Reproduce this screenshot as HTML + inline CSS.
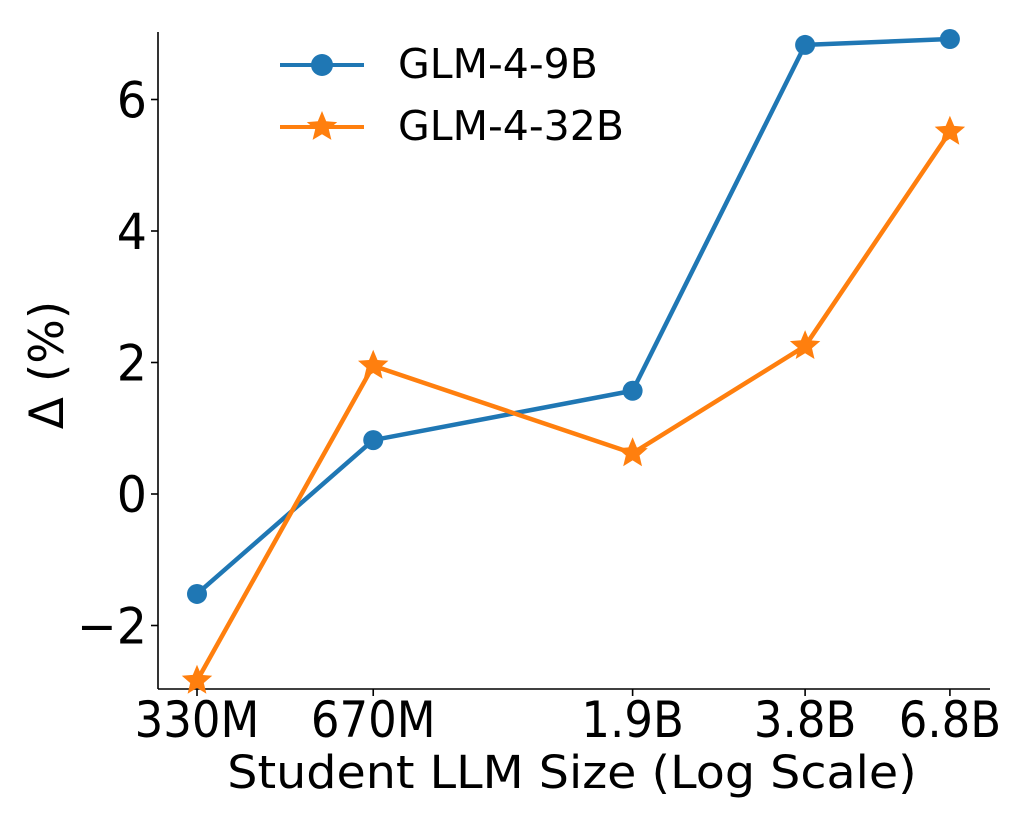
<!DOCTYPE html>
<html><head><meta charset="utf-8"><style>
html,body{margin:0;padding:0;background:#fff;}
svg{display:block;font-family:"DejaVu Sans","Liberation Sans",sans-serif;}
</style></head><body>
<svg id="chart" width="1024" height="813" viewBox="0 0 1024 813">
<g id="axes"></g>
<g id="marks"></g>
<g id="legend"></g>
</svg>
<script>
const categories = ["330M","670M","1.9B","3.8B","6.8B"];
const sizesB = [0.33,0.67,1.9,3.8,6.8];
const glm9b = [-1.52,0.82,1.57,6.83,6.92];
const glm32b = [-2.84,1.95,0.62,2.25,5.51];
const yTicks = [-2,0,2,4,6];
const yTickLabels = ["\u22122","0","2","4","6"];

const NS="http://www.w3.org/2000/svg";
const L=158,R=990,T=32,B=689;
const x0=197, pxPerDec=573;
function xs(v){return x0+(Math.log10(v)-Math.log10(0.33))*pxPerDec;}
function ys(v){return 494-v*65.75;}
function mk(tag,attrs,parent){const e=document.createElementNS(NS,tag);for(const k in attrs)e.setAttribute(k,attrs[k]);parent.appendChild(e);return e;}
const axes=document.getElementById('axes'),marks=document.getElementById('marks'),legend=document.getElementById('legend');

let e=mk('line',{x1:L,y1:T,x2:L,y2:B,stroke:'#000','stroke-width':1.6},axes);

e=mk('line',{x1:L,y1:B,x2:R,y2:B,stroke:'#000','stroke-width':1.6},axes);


yTicks.forEach((t,i)=>{
  const y=ys(t);
  let tk=mk('line',{x1:L-7,y1:y,x2:L,y2:y,stroke:'#000','stroke-width':1.6},axes);
  
  let tx=mk('text',{x:0,y:0,'text-anchor':'end','font-size':50,fill:'#000',transform:`translate(${L-11},${y+18}) scale(0.95,1)`},axes);
  tx.textContent=yTickLabels[i];
  
});
categories.forEach((c,i)=>{
  const x=xs(sizesB[i]);
  let tk=mk('line',{x1:x,y1:B,x2:x,y2:B+7,stroke:'#000','stroke-width':1.6},axes);
  
  let tx=mk('text',{x:0,y:0,'text-anchor':'middle','font-size':50,fill:'#000',transform:`translate(${x},737) scale(0.9,1)`},axes);
  tx.textContent=c;
  
});
let xt=mk('text',{x:0,y:0,'text-anchor':'middle','font-size':45,fill:'#000',transform:'translate(572,788) scale(1.057,1)'},axes);
xt.textContent="Student LLM Size (Log Scale)";

let yt=mk('text',{x:0,y:0,'text-anchor':'middle','font-size':47,fill:'#000',transform:'translate(63,365) rotate(-90)'},axes);
yt.textContent="\u0394 (%)";


function star(cx,cy,r){let p=[];for(let i=0;i<10;i++){const a=-Math.PI/2+i*Math.PI/5;const rr=i%2?r*0.45:r;p.push((cx+rr*Math.cos(a)).toFixed(1)+','+(cy+rr*Math.sin(a)).toFixed(1));}return p.join(' ');}

function series(vals,color,kind,name){
  const pts=vals.map((v,i)=>xs(sizesB[i])+','+ys(v)).join(' ');
  let pl=mk('polyline',{points:pts,fill:'none',stroke:color,'stroke-width':4.5,'stroke-linejoin':'round'},marks);
  
  vals.forEach((v,i)=>{
    let m;
    if(kind==='circle') m=mk('circle',{cx:xs(sizesB[i]),cy:ys(v),r:10,fill:color},marks);
    else m=mk('polygon',{points:star(xs(sizesB[i]),ys(v),16),fill:color},marks);
    
  });
}
series(glm9b,'#1f77b4','circle','glm-4-9b');
series(glm32b,'#ff7f0e','star','glm-4-32b');

function legendEntry(y,color,kind,label,name){
  let l=mk('line',{x1:280,y1:y,x2:364,y2:y,stroke:color,'stroke-width':4},legend);
  
  let m;
  if(kind==='circle') m=mk('circle',{cx:322,cy:y,r:11,fill:color},legend);
  else m=mk('polygon',{points:star(322,y,16),fill:color},legend);
  
  let t=mk('text',{x:398,y:y+13,'font-size':41,fill:'#000'},legend);
  t.textContent=label;
  
}
legendEntry(65,'#1f77b4','circle','GLM-4-9B','glm-4-9b');
legendEntry(127,'#ff7f0e','star','GLM-4-32B','glm-4-32b');
</script>
</body></html>
